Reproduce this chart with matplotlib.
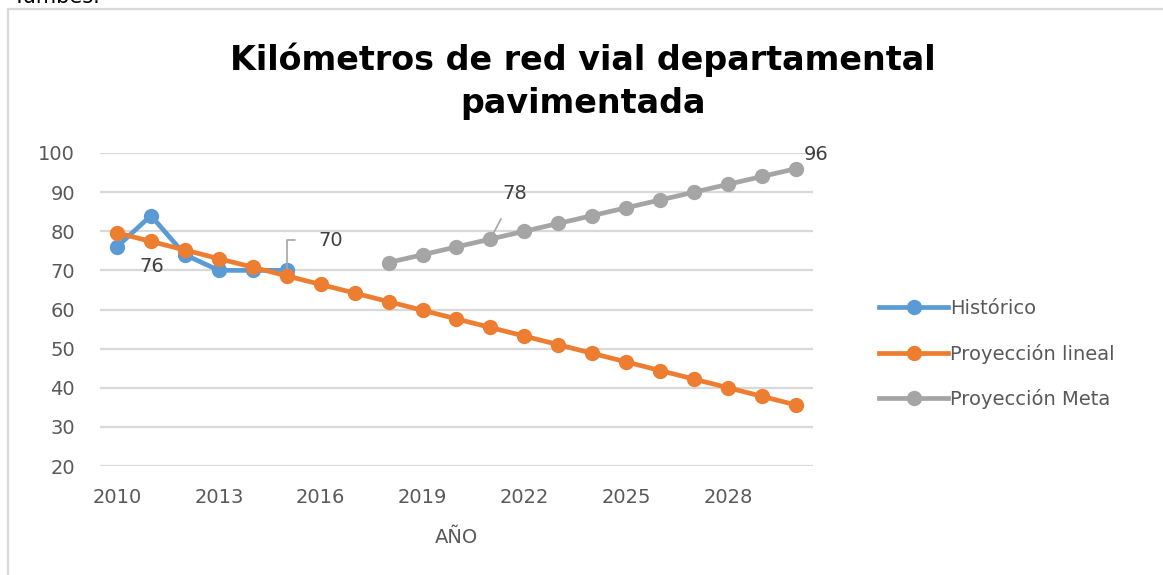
import matplotlib
matplotlib.use("Agg")
import matplotlib.pyplot as plt
from matplotlib.patches import Rectangle

# datos del grafico
years_hist = [2010, 2011, 2012, 2013, 2014, 2015]
historico = [76, 84, 74, 70, 70, 70]

years_lin = list(range(2010, 2031))
proy_lineal = [79.6, 77.4, 75.2, 73.0, 70.8, 68.6, 66.4, 64.2, 62.0, 59.8, 57.6,
               55.4, 53.2, 51.0, 48.8, 46.6, 44.4, 42.2, 40.0, 37.8, 35.6]

years_meta = list(range(2018, 2031))
proy_meta = [72, 74, 76, 78, 80, 82, 84, 86, 88, 90, 92, 94, 96]

xticks = [2010, 2013, 2016, 2019, 2022, 2025, 2028]
yticks = [20, 30, 40, 50, 60, 70, 80, 90, 100]

c_hist = '#5B9BD5'
c_lin = '#ED7D31'
c_meta = '#A5A5A5'
c_txt = '#595959'

fig = plt.figure(figsize=(11.63, 5.75), dpi=100)
ax = fig.add_axes([100/1163, 1 - 466/575, 713/1163, 313/575])

ax.plot(years_hist, historico, color=c_hist, lw=3.4, marker='o', ms=10,
        label='Histórico', zorder=3)
ax.plot(years_lin, proy_lineal, color=c_lin, lw=3.4, marker='o', ms=10,
        label='Proyección lineal', zorder=4)
ax.plot(years_meta, proy_meta, color=c_meta, lw=3.4, marker='o', ms=10,
        label='Proyección Meta', zorder=3)

ax.set_xlim(2009.5, 2030.5)
ax.set_ylim(20, 100)
ax.set_xticks(xticks)
ax.set_yticks(yticks)
ax.tick_params(axis='both', length=0, labelsize=14, labelcolor=c_txt)
ax.tick_params(axis='x', pad=16)
ax.tick_params(axis='y', pad=18)
ax.grid(axis='y', color='#d9d9d9', lw=1.6)
ax.set_axisbelow(True)
for s in ax.spines.values():
    s.set_visible(False)
ax.set_xlabel('AÑO', fontsize=14, color=c_txt, labelpad=15)

# etiquetas de datos
lbl = dict(fontsize=14, color='#404040', textcoords='offset pixels',
           ha='center', va='center')
ax.annotate(str(historico[0]), (years_hist[0], historico[0]), xytext=(35, -20), **lbl)
ax.annotate(str(historico[-1]), (years_hist[-1], historico[-1]), xytext=(44, 30),
            arrowprops=dict(arrowstyle='-', color='#a6a6a6', lw=1.2,
                            connectionstyle='angle,angleA=0,angleB=90,rad=0',
                            shrinkA=15, shrinkB=0), **lbl)
ax.annotate(str(proy_meta[3]), (years_meta[3], proy_meta[3]), xytext=(24, 46),
            arrowprops=dict(arrowstyle='-', color='#a6a6a6', lw=1.2,
                            shrinkA=11, shrinkB=5), **lbl)
ax.annotate(str(proy_meta[-1]), (years_meta[-1], proy_meta[-1]), xytext=(20, 14), **lbl)

leg = ax.legend(loc='center left', bbox_to_anchor=(862/1163, 1 - 354/575),
                bbox_transform=fig.transFigure, frameon=False, fontsize=14,
                handlelength=3.5, handletextpad=0.15, labelspacing=1.32)
for t in leg.get_texts():
    t.set_color(c_txt)

fig.text(0.501, 1 - 60/575, 'Kilómetros de red vial departamental',
         ha='center', va='center', fontsize=24, fontweight='bold')
fig.text(0.501, 1 - 103/575, 'pavimentada',
         ha='center', va='center', fontsize=24, fontweight='bold')

# marco del grafico y texto cortado arriba
fig.patches.append(Rectangle((8/1163, -0.05), 1.1, 1.05 - 9/575, transform=fig.transFigure,
                             fill=False, ec='#d9d9d9', lw=1.6))
fig.text(13/1163, 1 - 3/575, 'Tumbes.', fontsize=15, va='baseline', ha='left')

fig.savefig('out.png', dpi=100)
